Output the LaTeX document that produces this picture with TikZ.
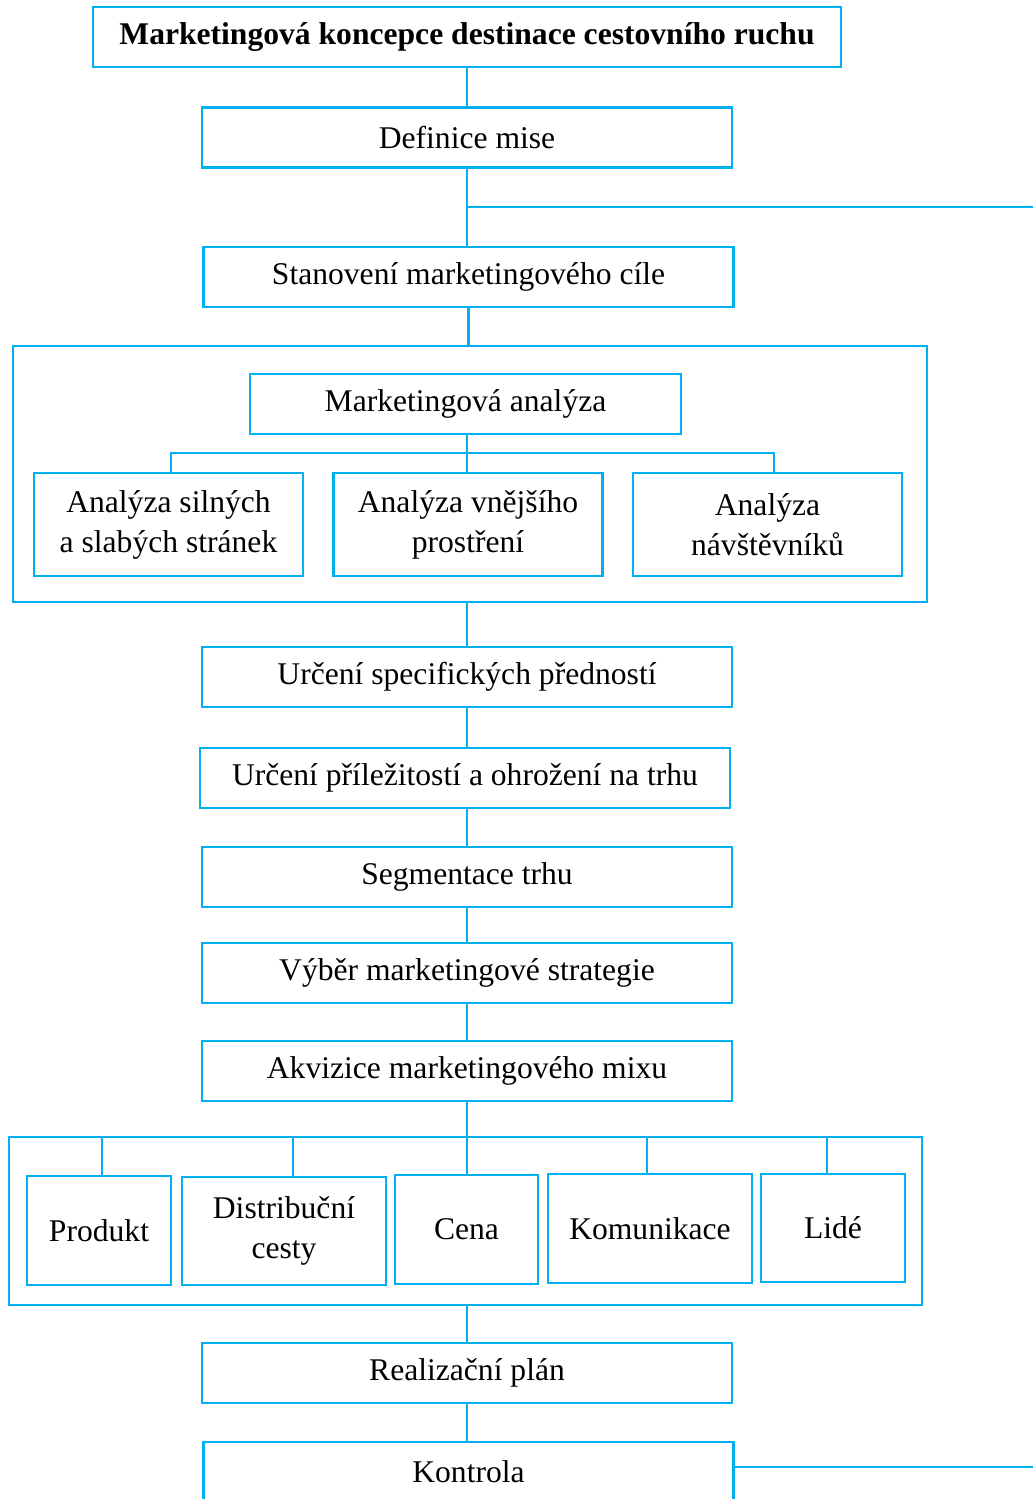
\documentclass[tikz,border=0pt]{standalone}
\usepackage{fontspec}
\setmainfont{Liberation Serif}
\definecolor{modra}{RGB}{0,176,240}
\begin{document}
\begin{tikzpicture}[x=0.5pt, y=-0.5pt,
    every node/.style={font=\fontsize{15.8}{20}\selectfont},
    blok/.style={draw=modra, line width=1.2pt, inner sep=0pt, align=center,
        minimum width=265pt, minimum height=30pt},
    ramec/.style={draw=modra, line width=1.2pt, inner sep=0pt},
    spoj/.style={draw=modra, line width=1.2pt}]
            \useasboundingbox (0,0) rectangle (1033,1499);
            \clip (0,0) rectangle (1033,1499);

            % Frames
            \node[ramec, minimum width=457pt, minimum height=128pt] (skupA) at (470,474) {};
            \node[ramec, minimum width=456.5pt, minimum height=84pt] (skupB) at (465.5,1221) {};

            % Main chain
            \node[blok, minimum width=374pt, font=\fontsize{15.8}{20}\selectfont\bfseries] (nazev) at (467,37) {Marketingová koncepce destinace cestovního ruchu};
            \node[blok] (mise) at (467,137.5) {Definice mise};
            \node[blok] (cile) at (468.5,277) {Stanovení marketingového cíle};

            % Analysis
            \node[blok, minimum width=215.5pt] (analyza) at (465.5,404) {Marketingová analýza};
            \node[blok, minimum width=134.5pt, minimum height=51.5pt] (silne) at (168.5,524.5) {Analýza silných\\a slabých stránek};
            \node[blok, minimum width=134.5pt, minimum height=51.5pt] (okoli) at (468,524.5) {Analýza vnějšího\\prostření};
            \node[blok, minimum width=134.5pt, minimum height=51.5pt] (navst) at (767.5,524.5) {Analýza\\návštěvníků};

            \node[blok] (predn) at (467,677) {Určení specifických předností};
            \node[blok] (prilez) at (465,778) {Určení příležitostí a ohrožení na trhu};
            \node[blok] (segm) at (467,877) {Segmentace trhu};
            \node[blok] (vyber) at (467,973) {Výběr marketingové strategie};
            \node[blok] (mix) at (467,1071) {Akvizice marketingového mixu};

            % Marketing mix
            \node[blok, minimum width=72pt, minimum height=54.5pt] (produkt) at (99,1230.5) {Produkt};
            \node[blok, minimum width=102pt, minimum height=54pt] (distr) at (284,1231) {Distribuční\\cesty};
            \node[blok, minimum width=71.5pt, minimum height=54.5pt] (cena) at (466.5,1229.5) {Cena};
            \node[blok, minimum width=102pt, minimum height=54.5pt] (komun) at (650,1228.5) {Komunikace};
            \node[blok, minimum width=72pt, minimum height=54pt] (lide) at (833,1228) {Lidé};

            \node[blok] (realiz) at (467,1373) {Realizační plán};
            \node[blok] (kontrola) at (468.5,1472) {Kontrola};

            % Free ends on the right
            \coordinate (odbocka) at (467,207);
            \coordinate (vpravo1) at (1040,207);
            \coordinate (vpravo2) at (1040,1467);
            \coordinate (sbernice) at (467,453);

            % Edges
            \path[spoj] (nazev) edge (mise);
            \path[spoj] (mise.south) edge (mise.south |- cile.north);
            \path[spoj] (odbocka) edge (vpravo1);
            \path[spoj] (cile.south) edge (cile.south |- skupA.north);
            \path[spoj] (sbernice |- analyza.south) edge (sbernice |- okoli.north);
            \path[spoj] ([xshift=1.25pt]silne.north) |- (sbernice) -| ([xshift=3.25pt]navst.north);
            \path[spoj] (predn.north |- skupA.south) edge (predn.north);
            \path[spoj] (predn.south) edge (predn.south |- prilez.north);
            \path[spoj] (segm.north |- prilez.south) edge (segm.north);
            \path[spoj] (segm) edge (vyber);
            \path[spoj] (vyber) edge (mix);
            \path[spoj] (mix.south) edge (mix.south |- cena.north);
            \path[spoj] ([xshift=1.5pt]produkt.north |- skupB.north) edge ([xshift=1.5pt]produkt.north);
            \path[spoj] ([xshift=4.5pt]distr.north |- skupB.north) edge ([xshift=4.5pt]distr.north);
            \path[spoj] ([xshift=-1.5pt]komun.north |- skupB.north) edge ([xshift=-1.5pt]komun.north);
            \path[spoj] ([xshift=-3pt]lide.north |- skupB.north) edge ([xshift=-3pt]lide.north);
            \path[spoj] (realiz.north |- skupB.south) edge (realiz.north);
            \path[spoj] (realiz.south) edge (realiz.south |- kontrola.north);
            \path[spoj] ([yshift=2.5pt]kontrola.east) edge ([yshift=2.5pt]kontrola.east -| vpravo2);
        \end{tikzpicture}
\end{document}
